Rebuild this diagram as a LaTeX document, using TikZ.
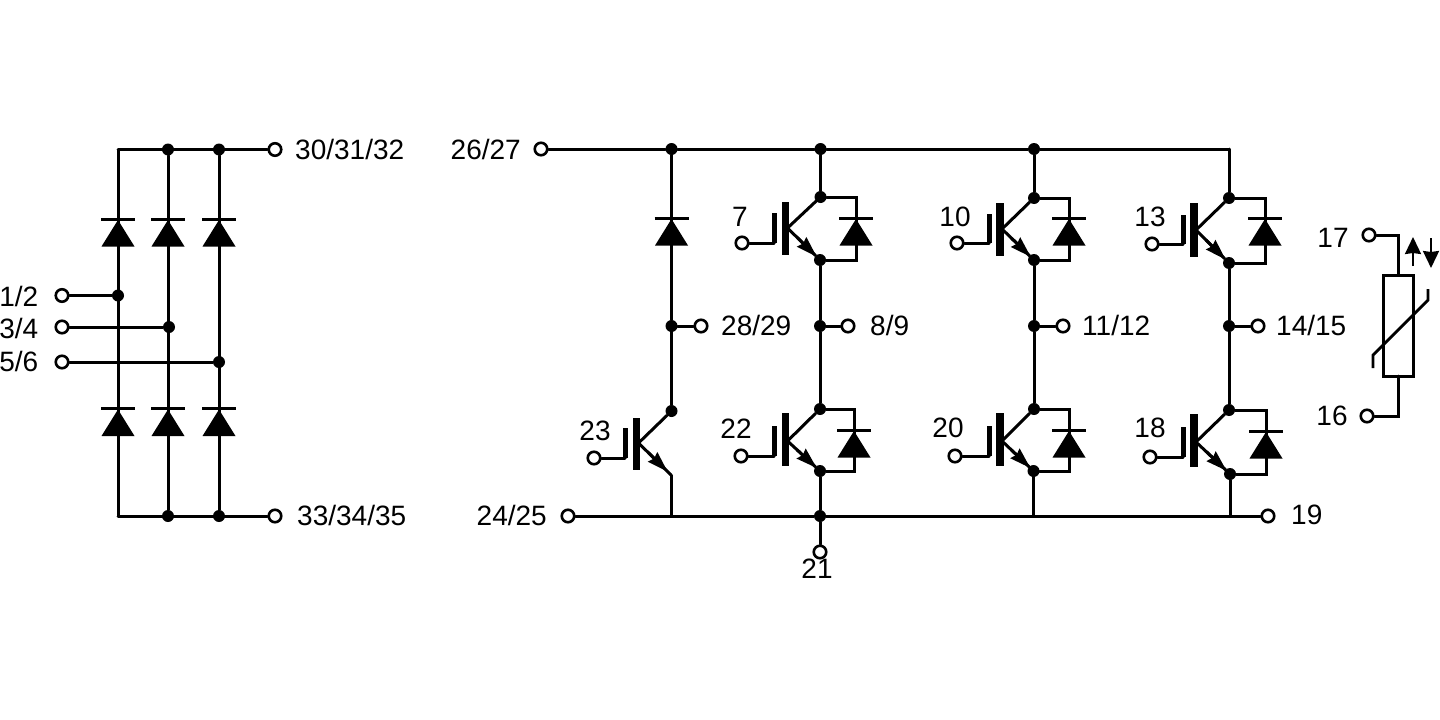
\documentclass[tikz,border=0pt]{standalone}
\usepackage{fontspec}
\setmainfont{Liberation Sans}
\usetikzlibrary{arrows.meta,calc}
\tikzset{
  x=1pt,y=-1pt,
  wire/.style={line width=3pt,line cap=round,line join=miter},
  term/.style={circle,draw,fill=white,line width=2.6pt,minimum size=12.5pt,inner sep=0pt},
  junc/.style={circle,fill=black,minimum size=12pt,inner sep=0pt},
  lbl/.style={font=\fontsize{28}{30}\selectfont,inner sep=0pt,text=black},
  pt/.style={inner sep=0pt,minimum size=0pt},
  diodebody/.pic={
    \fill (0,1) -- (16.5,27.5) -- (-16.5,27.5) -- cycle;
    \draw[line width=3pt] (-17,0) -- (17,0);
  }
}
% id, bar x, bar top, bar bottom, base y, gate x, gate bottom y, gate terminal, collector
\newcommand{\igbtsym}[9]{%
  \fill (#2-3.8,#3) rectangle (#2+3.8,#4);
  \draw[line width=5pt] (#6,#5-15) -- (#6,#7);
  \draw[wire] (#8) -| (#6,#7);
  \coordinate (#1b) at (#2+2,#5);
  \draw[wire] (#1b) -- (#9);
}
\newcommand{\emit}[2]{%
  \draw[wire] (#1b) -- (#2);
  \draw[line width=3pt,-{Stealth[length=21pt,width=13pt,inset=2pt]}] ($(#1b)!.3!(#2)$) -- ($(#1b)!.9!(#2)$);
}
\begin{document}
\begin{tikzpicture}
\useasboundingbox (0,0) rectangle (1440,720);

% ---------- left bridge
\node[pt] (c1t) at (118,149.5) {};
\node[junc] (c2t) at (168,149.5) {};
\node[junc] (c3t) at (219,149.5) {};
\node[term] (t30) at (275,149.5) {};
\node[pt] (c1b) at (118,516) {};
\node[junc] (c2b) at (168,516) {};
\node[junc] (c3b) at (219,516) {};
\node[term] (t33) at (275,516) {};
\node[term] (t1) at (62,295.5) {};
\node[term] (t3) at (62,327) {};
\node[term] (t5) at (62,362) {};
\node[junc] (j1) at (118,295.5) {};
\node[junc] (j3) at (169,327) {};
\node[junc] (j5) at (219,362) {};
\draw[wire] (c1t) -- (t30) (c1b) -- (t33);
\draw[wire] (c1t) -- (c1b) (c2t) -- (c2b) (c3t) -- (c3b);
\draw[wire] (t1) -- (j1);
\draw[wire] (t3) -- (j3);
\draw[wire] (t5) -- (j5);
\foreach \x in {118,168,219}{
  \pic at (\x,219) {diodebody};
  \pic at (\x,408.5) {diodebody};
}
\node[lbl,anchor=west] at (295,149) {30/31/32};
\node[lbl,anchor=west] at (297,515) {33/34/35};
\node[lbl,anchor=east] at (38.5,296) {1/2};
\node[lbl,anchor=east] at (38.5,328) {3/4};
\node[lbl,anchor=east] at (38.5,361) {5/6};

% ---------- right rails
\node[term] (t26) at (541,149) {};
\node[term] (t24) at (568,516) {};
\node[term] (t19) at (1268,516) {};
\node[term] (t21) at (820,552) {};
\node[junc] (ta) at (671.5,149) {};
\node[junc] (tb) at (820.5,149) {};
\node[junc] (tc) at (1034,149) {};
\node[pt] (td) at (1229,149) {};
\node[pt] (ba) at (671,516) {};
\node[junc] (bb) at (820,516) {};
\node[pt] (bc) at (1033.5,516) {};
\node[pt] (bd) at (1230,516) {};
\draw[wire] (t26) -- (ta) -- (tb) -- (tc) -- (td);
\draw[wire] (t24) -- (ba) -- (bb) -- (bc) -- (bd) -- (t19);
\draw[wire] (bb) -- (t21);

% column A
\node[junc] (ma) at (671.5,326) {};
\node[term] (t28) at (701,326) {};
\node[junc] (ac) at (671.5,411) {};
\node[pt] (ae) at (671,475) {};
\node[term] (g23) at (594,458) {};
\draw[wire] (ta) -- (ma) -- (ac);
\draw[wire] (ma) -- (t28);
\draw[wire] (ae) -- (ba);
\pic at (671.5,218) {diodebody};
\igbtsym{a}{636.5}{418}{470}{443}{625}{458}{g23}{ac}
\emit{a}{ae}

% column B
\node[junc] (b1c) at (820.5,197) {};
\node[junc] (b1e) at (820,260) {};
\node[junc] (mb) at (820,326) {};
\node[term] (t8) at (848,326) {};
\node[junc] (b2c) at (820,409) {};
\node[junc] (b2e) at (820,471) {};
\node[term] (g7) at (742,243) {};
\node[term] (g22) at (741,456) {};
\draw[wire] (tb) -- (b1c) (b1e) -- (mb) -- (b2c) (b2e) -- (bb) (mb) -- (t8);
\draw[wire] (b1c) -- (856,197) -- (856,260) -- (b1e);
\draw[wire] (b2c) -- (854,409) -- (854,471) -- (b2e);
\pic at (856,218) {diodebody};
\pic at (854,430) {diodebody};
\igbtsym{b1}{785.5}{202}{255}{228}{774}{243}{g7}{b1c}
\emit{b1}{b1e}
\igbtsym{b2}{785.5}{413}{466}{441}{774}{456}{g22}{b2c}
\emit{b2}{b2e}

% column C
\node[junc] (c1c) at (1034,198) {};
\node[junc] (c1e) at (1034,260) {};
\node[junc] (mc) at (1034,326) {};
\node[term] (t11) at (1063,326) {};
\node[junc] (c2c) at (1034,409) {};
\node[junc] (c2e) at (1033.5,471) {};
\node[term] (g10) at (957,243) {};
\node[term] (g20) at (955,456) {};
\draw[wire] (tc) -- (c1c) (c1e) -- (mc) -- (c2c) (c2e) -- (bc) (mc) -- (t11);
\draw[wire] (c1c) -- (1069,198) -- (1069,260) -- (c1e);
\draw[wire] (c2c) -- (1069,409) -- (1069,471) -- (c2e);
\pic at (1069,218) {diodebody};
\pic at (1069,430) {diodebody};
\igbtsym{c1}{1000}{203}{256}{229}{989}{243}{g10}{c1c}
\emit{c1}{c1e}
\igbtsym{c2}{1000}{413}{466}{441}{989}{456}{g20}{c2c}
\emit{c2}{c2e}

% column D
\node[junc] (d1c) at (1229,198) {};
\node[junc] (d1e) at (1229,263) {};
\node[junc] (md) at (1229,326) {};
\node[term] (t14) at (1258,326) {};
\node[junc] (d2c) at (1229,410) {};
\node[junc] (d2e) at (1230,474) {};
\node[term] (g13) at (1152,244) {};
\node[term] (g18) at (1150,457) {};
\draw[wire] (td) -- (d1c) (d1e) -- (md) -- (d2c) (d2e) -- (bd) (md) -- (t14);
\draw[wire] (d1c) -- (1265,198) -- (1265,263) -- (d1e);
\draw[wire] (d2c) -- (1266,410) -- (1266,474) -- (d2e);
\pic at (1265,218) {diodebody};
\pic at (1266,431) {diodebody};
\igbtsym{d1}{1194}{203}{257}{230}{1183}{244}{g13}{d1c}
\emit{d1}{d1e}
\igbtsym{d2}{1194}{414}{467}{442}{1183}{457}{g18}{d2c}
\emit{d2}{d2e}

% varistor
\node[term] (t17) at (1369,235) {};
\node[term] (t16) at (1367,416) {};
\node[draw,line width=3pt,minimum width=30pt,minimum height=101pt,inner sep=0pt,outer sep=0pt,anchor=north west] (rv) at (1383,275) {};
\draw[wire] (t17) -- (1398,235) -- (rv.north);
\draw[wire] (t16) -- (1398,416) -- (rv.south);
\draw[line width=2.8pt] (1373,368) -- (1373,355) -- (1428,300) -- (1428,289);
\draw[line width=2.2pt,-{Stealth[length=17pt,width=16pt,inset=1pt]}] (1413,266) -- (1413,237);
\draw[line width=2.2pt,-{Stealth[length=17pt,width=16pt,inset=1pt]}] (1431,238) -- (1431,268);

% labels
\node[lbl,anchor=east] at (521,149) {26/27};
\node[lbl,anchor=east] at (547,515) {24/25};
\node[lbl,anchor=west] at (721,325.5) {28/29};
\node[lbl,anchor=west] at (870,325.5) {8/9};
\node[lbl,anchor=west] at (1082,325.5) {11/12};
\node[lbl,anchor=west] at (1276,325.5) {14/15};
\node[lbl,anchor=west] at (1291,515) {19};
\node[lbl] at (817,569) {21};
\node[lbl] at (740,217) {7};
\node[lbl] at (955,217) {10};
\node[lbl] at (1150,217) {13};
\node[lbl] at (595,431) {23};
\node[lbl] at (736,429) {22};
\node[lbl] at (948,428) {20};
\node[lbl] at (1150,428) {18};
\node[lbl] at (1333,238) {17};
\node[lbl] at (1332,416) {16};
\end{tikzpicture}
\end{document}
